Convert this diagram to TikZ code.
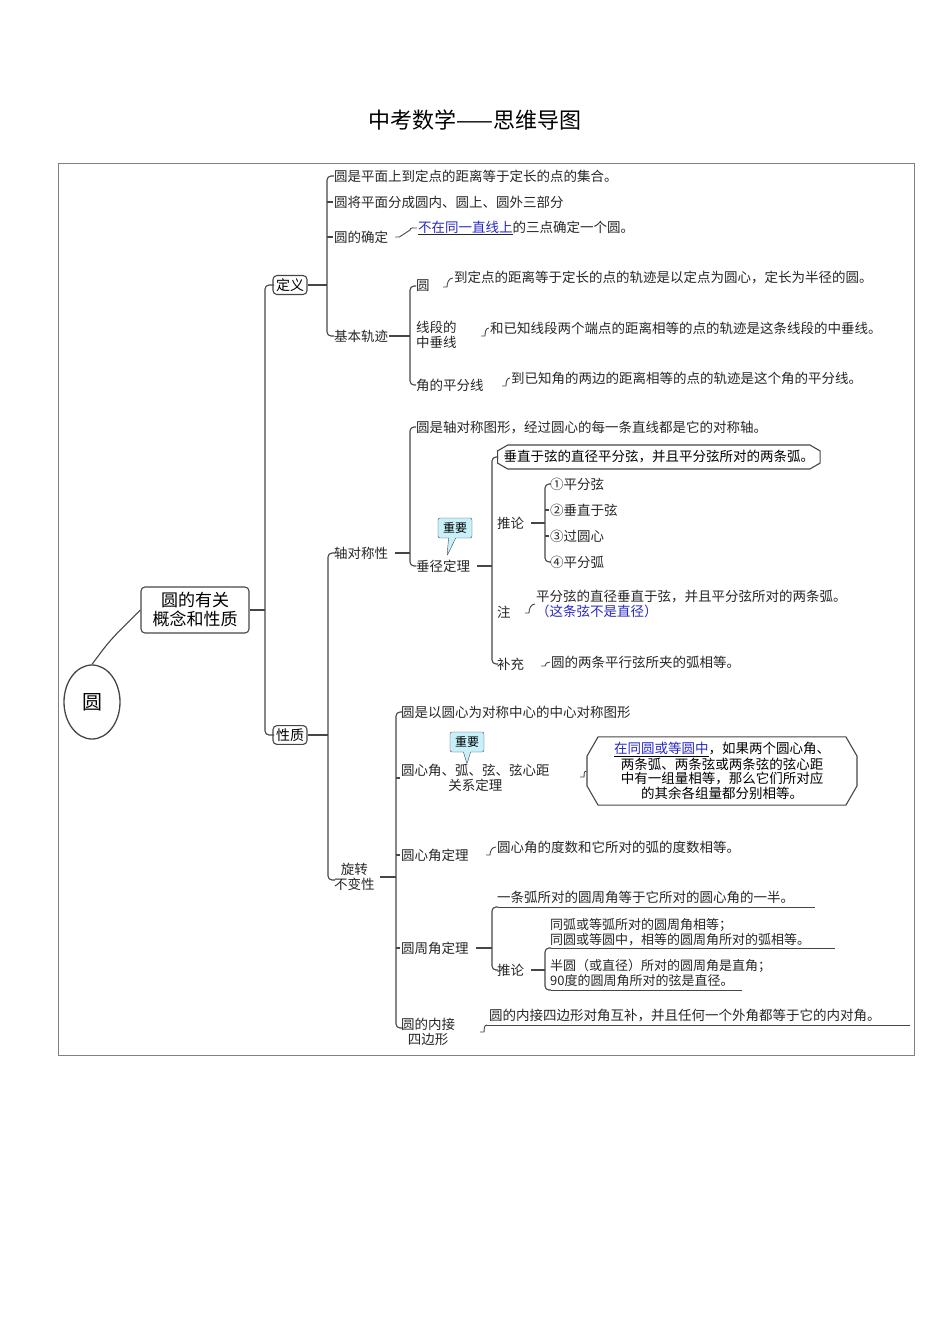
\documentclass[tikz,border=0pt]{standalone}
\usepackage{fontspec}
\setmainfont{Noto Sans CJK SC}
\usetikzlibrary{shapes.geometric,shapes.callouts,shapes.misc}
\definecolor{ln}{RGB}{70,70,70}
\definecolor{lnk}{RGB}{40,40,200}
\definecolor{cal}{RGB}{200,240,250}
\begin{document}
\begin{tikzpicture}[x=1pt,y=-1pt,
  t/.style={anchor=west,inner sep=1pt,font=\fontsize{13.5}{15}\selectfont,text=black!85},
  tl/.style={t,align=left},
  br/.style={draw=ln,line width=1.1pt,rounded corners=4pt},
  cn/.style={draw=ln,line width=1.1pt},
  hk/.style={draw=ln,line width=0.9pt},
  rb/.style={draw=ln,line width=1.1pt,rounded corners=4pt,inner sep=3pt,font=\fontsize{14}{15}\selectfont},
  imp/.style={rectangle callout,draw=ln,fill=cal,rounded corners=2pt,font=\fontsize{12}{13}\selectfont,inner sep=3pt,minimum width=34pt,minimum height=20pt},
  ul/.style={draw=ln,line width=1pt}]
\useasboundingbox (0,0) rectangle (950,1344);
\node[font=\fontsize{22}{24}\selectfont] (title) at (475,120) {中考数学——思维导图};
\draw[draw=black!50,line width=1pt] (58,163) rectangle (914,1055);
% root
\node[ellipse,draw=ln,line width=1.3pt,minimum width=56pt,minimum height=74pt,font=\fontsize{20}{22}\selectfont] (root) at (92,702) {圆};
\node[rb,align=center,font=\fontsize{17}{19}\selectfont,minimum width=108pt,minimum height=46pt] (main) at (195,610) {圆的有关\\概念和性质};
\draw[cn] (root.north) .. controls (110,640) .. (main.west);
\draw[br] (main.east) -- (265,610);
\draw[br] (274,285) -- (265,285) -- (265,735) -- (274,735);
\node[rb] (dy) at (290,285) {定义};
\node[rb] (xz) at (290,735) {性质};
% 定义
\draw[cn] (dy.east) -- (327,285);
\draw[br] (334,176) -- (327,176) -- (327,336) -- (334,336);
\node[t] (a1) at (333,176) {圆是平面上到定点的距离等于定长的点的集合。};
\node[t] (a2) at (333,202) {圆将平面分成圆内、圆上、圆外三部分};
\node[t] (a3) at (333,237) {圆的确定};
\draw[cn] (327,202) -- (a2.west); \draw[cn] (327,237) -- (a3.west);
\node[t] (a3t) at (417,228) {\underline{\textcolor{lnk}{不在同一直线上}}的三点确定一个圆。};
\draw[hk] (a3.east) ++(6,0) -- ++(4,0) -- (410,230) to[out=90,in=180] (a3t.west);
\node[t] (a4) at (333,336) {基本轨迹};
% 基本轨迹
\draw[cn] (a4.east) -- (410,336);
\draw[br] (416,286) -- (410,286) -- (410,385) -- (416,385);
\node[t] (b1) at (415,286) {圆};
\node[tl] (b2) at (415,335) {线段的\\中垂线};
\node[t] (b3) at (415,385) {角的平分线};
\node[t] (b1t) at (453,278) {到定点的距离等于定长的点的轨迹是以定点为圆心，定长为半径的圆。};
\node[t] (b2t) at (489,328) {和已知线段两个端点的距离相等的点的轨迹是这条线段的中垂线。};
\node[t] (b3t) at (510,378) {到已知角的两边的距离相等的点的轨迹是这个角的平分线。};
\draw[hk] (443,287) -- (447,287) to[out=90,in=180] (b1t.west);
\draw[hk] (481,336) -- (485,336) to[out=90,in=180] (b2t.west);
\draw[hk] (502,386) -- (506,386) to[out=90,in=180] (b3t.west);
% 性质
\draw[cn] (xz.east) -- (328,735);
\draw[br] (335,553) -- (328,553) -- (328,880) -- (335,880);
\node[t] (c1) at (333,553) {轴对称性};
\node[tl,align=center] (c2) at (333,877) {旋转\\不变性};
% 轴对称性
\draw[cn] (c1.east) ++(6,0) -- (410,553);
\draw[br] (416,427) -- (410,427) -- (410,566) -- (416,566);
\node[t] (d1) at (415,427) {圆是轴对称图形，经过圆心的每一条直线都是它的对称轴。};
\node[t] (d2) at (415,566) {垂径定理};
\node[imp,callout absolute pointer={(447,556)}] (imp1) at (455,528) {重要};
% 垂径定理
\draw[cn] (d2.east) ++(6,0) -- (492,566);
\draw[br] (498,457) -- (492,457) -- (492,664) -- (498,664);
\node[chamfered rectangle,chamfered rectangle xsep=4pt,chamfered rectangle angle=60,draw=ln,line width=1.1pt,anchor=west,inner sep=2pt,font=\fontsize{13.5}{15}\selectfont] (e0) at (497,457) {垂直于弦的直径平分弦，并且平分弦所对的两条弧。};
\node[t] (e1) at (496,523) {推论};
\node[t] (e2) at (496,612) {注};
\node[t] (e3) at (496,664) {补充};
\draw[cn] (e1.east) ++(6,0) -- (545,523);
\draw[br] (551,484) -- (545,484) -- (545,562) -- (551,562);
\node[t] (f1) at (549,484) {①平分弦};
\node[t] (f2) at (549,510) {②垂直于弦};
\node[t] (f3) at (549,536) {③过圆心};
\node[t] (f4) at (549,562) {④平分弧};
\draw[cn] (545,510) -- (f2.west); \draw[cn] (545,536) -- (f3.west);
\node[tl] (e2t) at (535,604) {平分弦的直径垂直于弦，并且平分弦所对的两条弧。\\\textcolor{lnk}{（这条弦不是直径）}};
\draw[hk] (525,613) -- (529,613) to[out=90,in=180] (535,604);
\node[t] (e3t) at (550,662) {圆的两条平行弦所夹的弧相等。};
\draw[hk] (541,666) -- (545,666) to[out=90,in=180] (e3t.west);
% 旋转不变性
\draw[cn] (c2.east) ++(4,0) -- (396,877);
\draw[br] (402,712) -- (396,712) -- (396,1028) -- (402,1028);
\node[t] (g1) at (400,712) {圆是以圆心为对称中心的中心对称图形};
\node[tl,align=center] (g2) at (400,778) {圆心角、弧、弦、弦心距\\关系定理};
\node[t] (g3) at (400,855) {圆心角定理};
\node[t] (g4) at (400,948) {圆周角定理};
\node[tl,align=center] (g5) at (400,1032) {圆的内接\\四边形};
\draw[cn] (396,778) -- (g2.west); \draw[cn] (396,855) -- (g3.west); \draw[cn] (396,948) -- (g4.west);
\node[imp,callout absolute pointer={(467,764)}] (imp2) at (467,742) {重要};
\node[chamfered rectangle,chamfered rectangle xsep=9pt,chamfered rectangle angle=30,draw=ln,line width=1.1pt,align=center,inner sep=2pt,font=\fontsize{13.5}{14.5}\selectfont,minimum width=270pt] (g2t) at (722,771) {\underline{\textcolor{lnk}{在同圆或等圆中}}，如果两个圆心角、\\两条弧、两条弦或两条弦的弦心距\\中有一组量相等，那么它们所对应\\的其余各组量都分别相等。};
\draw[hk] (580,777) -- (584,777) to[out=90,in=180] (g2t.west);
\node[t] (g3t) at (496,847) {圆心角的度数和它所对的弧的度数相等。};
\draw[hk] (486,855) -- (490,855) to[out=90,in=180] (g3t.west);
% 圆周角定理
\draw[cn] (g4.east) ++(6,0) -- (492,948);
\draw[br] (498,907) -- (492,907) -- (492,970) -- (498,970);
\node[t] (h1) at (496,897) {一条弧所对的圆周角等于它所对的圆心角的一半。};
\draw[ul] (498,907) -- (815,907);
\node[t] (h2) at (496,970) {推论};
\draw[cn] (h2.east) ++(6,0) -- (545,970);
\draw[br] (551,948) -- (545,948) -- (545,990) -- (551,990);
\node[tl,font=\fontsize{13}{15}\selectfont] (i1) at (549,932) {同弧或等弧所对的圆周角相等；\\同圆或等圆中，相等的圆周角所对的弧相等。};
\draw[ul] (551,948) -- (835,948);
\node[tl,font=\fontsize{13}{15}\selectfont] (i2) at (549,973) {半圆（或直径）所对的圆周角是直角；\\90度的圆周角所对的弦是直径。};
\draw[ul] (551,990) -- (742,990);
% 内接四边形
\node[t] (g5t) at (488,1015) {圆的内接四边形对角互补，并且任何一个外角都等于它的内对角。};
\draw[ul] (486,1025) -- (910,1025);
\draw[hk] (480,1032) -- (484,1032) to[out=90,in=180] (487,1025);
\end{tikzpicture}
\end{document}
